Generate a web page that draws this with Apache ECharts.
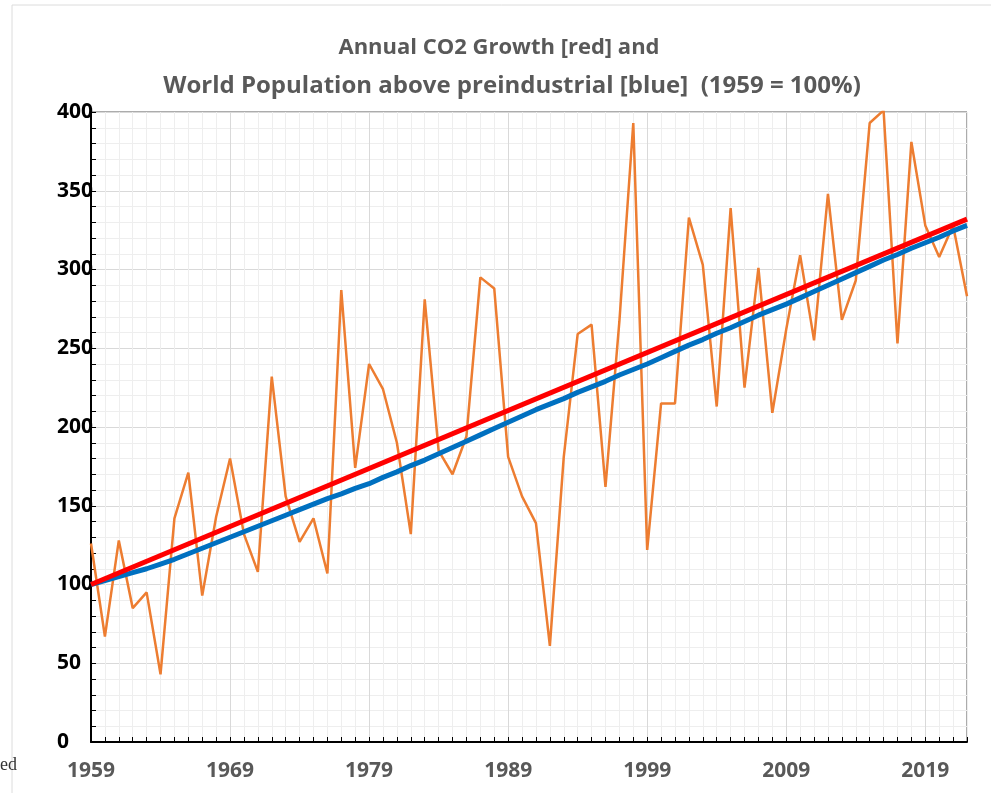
<!DOCTYPE html>
<html>
<head>
<meta charset="utf-8">
<title>Annual CO2 Growth and World Population</title>
<script src="https://cdn.jsdelivr.net/npm/echarts@6/dist/echarts.min.js"></script>
<style>
  html, body { margin: 0; padding: 0; background: #fff; }
  #chart { width: 991px; height: 793px; }
</style>
</head>
<body>
<div id="chart"></div>
<script>
// years on the x axis
var years = [1959, 1960, 1961, 1962, 1963, 1964, 1965, 1966, 1967, 1968,
  1969, 1970, 1971, 1972, 1973, 1974, 1975, 1976, 1977, 1978,
  1979, 1980, 1981, 1982, 1983, 1984, 1985, 1986, 1987, 1988,
  1989, 1990, 1991, 1992, 1993, 1994, 1995, 1996, 1997, 1998,
  1999, 2000, 2001, 2002, 2003, 2004, 2005, 2006, 2007, 2008,
  2009, 2010, 2011, 2012, 2013, 2014, 2015, 2016, 2017, 2018,
  2019, 2020, 2021, 2022];

// annual CO2 growth, 1959 = 100 (orange)
var co2Growth = [126, 67, 128, 85, 95, 43, 142, 171, 93, 143,
  180, 132, 108, 232, 156, 127, 142, 107, 287, 174,
  240, 224, 190, 132, 281, 185, 170, 194, 295, 288,
  181, 156, 139, 61, 181, 259, 265, 162, 267, 393,
  122, 215, 215, 333, 303, 213, 339, 225, 301, 209,
  262, 309, 255, 348, 268, 293, 393, 401, 253, 381,
  328, 308, 328, 283];

// world population above preindustrial, 1959 = 100 (blue)
var population = [100, 102.5, 105, 107.5, 110, 113, 116, 119.5, 123, 126.5,
  130, 133.5, 137, 140.5, 144, 147.5, 151, 154.5, 157.5, 161,
  164, 168, 171.5, 175.5, 179, 183, 187, 191, 195, 199,
  203, 207, 211, 214.5, 218, 222, 225.5, 229, 233, 236.5,
  240, 244, 248, 252, 255.5, 259.5, 263, 267, 271, 274.5,
  278, 282, 286, 290, 294, 298, 302, 306, 309.5, 313.5,
  317, 320.5, 324.5, 328];

// linear trend of CO2 growth (red), end points
var trendYears = [1959, 2022];
var trendValues = [100, 332];

var titleLines = ['Annual CO2 Growth [red] and',
  'World Population above preindustrial [blue]  (1959 = 100%)'];

var pair = function (xs, ys) {
  return xs.map(function (x, i) { return [x, ys[i]]; });
};

// every 10th split line is darker
var xSplitColors = ['#d9d9d9'];
for (var i = 0; i < 9; i++) xSplitColors.push('#eeeeee');
var ySplitColors = ['#d9d9d9', '#eeeeee', '#eeeeee', '#eeeeee', '#eeeeee'];

var option = {
  backgroundColor: '#fff',
  animation: false,
  title: [{
    text: titleLines[0],
    left: 499,
    top: 37,
    padding: 0,
    textAlign: 'center',
    textStyle: { color: '#595959', fontFamily: 'Open Sans', fontWeight: 'bold', fontSize: 22 }
  }, {
    text: titleLines[1],
    left: 512,
    top: 74,
    padding: 0,
    textAlign: 'center',
    textStyle: { color: '#595959', fontFamily: 'Open Sans', fontWeight: 'bold', fontSize: 24 }
  }],
  graphic: [{
    type: 'line',
    shape: { x1: 12, y1: 5, x2: 991, y2: 5 },
    style: { stroke: '#dcdcdc', lineWidth: 1 }
  }, {
    type: 'line',
    shape: { x1: 12, y1: 5, x2: 12, y2: 793 },
    style: { stroke: '#dcdcdc', lineWidth: 1 }
  }, {
    type: 'text',
    left: 0,
    top: 756,
    style: { text: 'ed', fill: '#333', font: '18px "Liberation Serif"' }
  }],
  grid: {
    left: 91,
    top: 112,
    right: 24,
    bottom: 51,
    show: true,
    backgroundColor: '#fff',
    borderColor: '#595959',
    borderWidth: 1
  },
  xAxis: {
    type: 'value',
    min: 1959,
    max: 2022,
    interval: 1,
    axisLine: { show: true, onZero: false, lineStyle: { color: '#000', width: 2 } },
    axisTick: { show: true, inside: true, length: 5, lineStyle: { color: '#000', width: 1 } },
    axisLabel: {
      margin: 19,
      color: '#595959',
      fontFamily: 'Open Sans',
      fontWeight: 'bold',
      fontSize: 21,
      formatter: function (v) { return (v - 1959) % 10 === 0 ? String(v) : ''; }
    },
    splitLine: { show: true, lineStyle: { color: xSplitColors, width: 1 } }
  },
  yAxis: {
    type: 'value',
    min: 0,
    max: 400,
    interval: 10,
    axisLine: { show: true, lineStyle: { color: '#000', width: 2 } },
    axisTick: { show: true, inside: true, length: 5, lineStyle: { color: '#000', width: 1 } },
    axisLabel: {
      margin: 34,
      align: 'left',
      color: '#000',
      fontFamily: 'Open Sans',
      fontWeight: 'bold',
      fontSize: 21,
      formatter: function (v) { return v % 50 === 0 ? String(v) : ''; }
    },
    splitLine: { show: true, lineStyle: { color: ySplitColors, width: 1 } }
  },
  series: [{
    name: 'CO2 growth',
    type: 'line',
    data: pair(years, co2Growth),
    showSymbol: false,
    symbol: 'none',
    lineStyle: { color: '#ED7D31', width: 2.5 },
    z: 2
  }, {
    name: 'Population',
    type: 'line',
    data: pair(years, population),
    showSymbol: false,
    symbol: 'none',
    lineStyle: { color: '#0070C0', width: 5 },
    z: 3
  }, {
    name: 'Trend',
    type: 'line',
    data: pair(trendYears, trendValues),
    showSymbol: false,
    symbol: 'none',
    lineStyle: { color: '#FF0000', width: 5 },
    z: 4
  }]
};

var myChart = echarts.init(document.getElementById('chart'));
myChart.setOption(option);
window.addEventListener('resize', function () {
  myChart.resize();
});
</script>
</body>
</html>
